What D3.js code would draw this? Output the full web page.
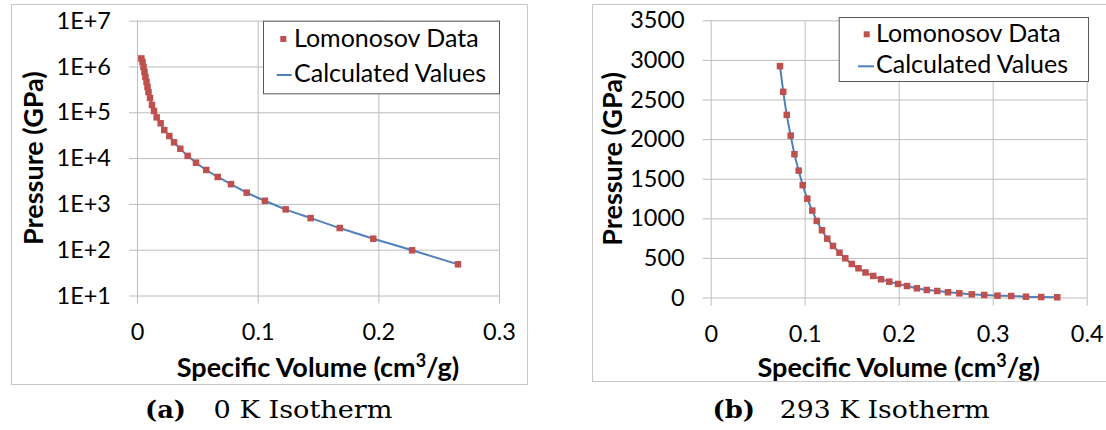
<!DOCTYPE html>
<html>
<head>
<meta charset="utf-8">
<script src="https://cdn.jsdelivr.net/npm/d3@7"></script>
<style>
  html, body { margin: 0; padding: 0; background: #fff; }
  svg { display: block; }
</style>
</head>
<body>
<svg id="chart" width="1106" height="430"></svg>
<script>
// Two Excel-style isotherm panels: log-scale 0 K (left) and linear 293 K (right).

const seriesNames = ["Lomonosov Data", "Calculated Values"];

// (a) 0 K isotherm
const volume0K = [0.0036, 0.0046, 0.0054, 0.0062, 0.0070, 0.0079, 0.0087, 0.0095, 0.0108, 0.0124,
  0.0141, 0.0163, 0.0196, 0.0226, 0.0268, 0.0307, 0.0359, 0.0420, 0.0489, 0.0574,
  0.0669, 0.0779, 0.0909, 0.1060, 0.1232, 0.1439, 0.1680, 0.1958, 0.2280, 0.2660];
const pressure0K = [1.5e6, 1.25e6, 9.75e5, 7.6e5, 5.9e5, 4.6e5, 3.57e5, 2.77e5, 2.05e5, 1.45e5,
  1.07e5, 7.76e4, 5.75e4, 4.1e4, 3.03e4, 2.21e4, 1.6e4, 1.12e4, 7940, 5500,
  3870, 2700, 1760, 1170, 760, 490, 297, 174, 97, 48];
const xTicks0K = [0, 0.1, 0.2, 0.3];
const xTickLabels0K = ["0", "0.1", "0.2", "0.3"];
const yTicks0K = [1e1, 1e2, 1e3, 1e4, 1e5, 1e6, 1e7];
const yTickLabels0K = ["1E+1", "1E+2", "1E+3", "1E+4", "1E+5", "1E+6", "1E+7"];

// (b) 293 K isotherm
const volume293K = [0.0737, 0.0772, 0.0809, 0.0851, 0.0891, 0.0936, 0.0979, 0.1028, 0.1081, 0.1128,
  0.1184, 0.1240, 0.1301, 0.1370, 0.1431, 0.1501, 0.1572, 0.1647, 0.1729, 0.1812,
  0.1900, 0.1993, 0.2088, 0.2193, 0.2299, 0.2410, 0.2524, 0.2645, 0.2777, 0.2910,
  0.3051, 0.3197, 0.3354, 0.3516, 0.3687];
const pressure293K = [2921, 2597, 2306, 2044, 1809, 1602, 1418, 1248, 1097, 967,
  849, 743, 651, 566, 495, 423, 369, 316, 272, 230,
  200, 171, 145, 116, 95, 82, 66, 53, 40, 32,
  23, 19, 10, 6, 3];
const xTicks293K = [0, 0.1, 0.2, 0.3, 0.4];
const xTickLabels293K = ["0", "0.1", "0.2", "0.3", "0.4"];
const yTicks293K = [0, 500, 1000, 1500, 2000, 2500, 3000, 3500];
const yTickLabels293K = ["0", "500", "1000", "1500", "2000", "2500", "3000", "3500"];

const captionTags = ["(a)", "(b)"];
const captionTexts = ["0 K Isotherm", "293 K Isotherm"];

const MARKER = "#C0504D";
const LINE = "#4F81BD";
const GRID = "#bdbdbd";
const FONT = "Lato, 'Open Sans', sans-serif";
const SERIF = "'DejaVu Serif', serif";

const svg = d3.select("#chart");

const panels = [
  {
    frame: { x: 11.5, y: 4.5, w: 516, h: 380 },
    x: d3.scaleLinear().domain([0, 0.3]).range([137, 499]),
    y: d3.scaleLog().domain([1e1, 1e7]).range([295.5, 20.7]),
    xTicks: xTicks0K, xLabels: xTickLabels0K,
    yTicks: yTicks0K, yLabels: yTickLabels0K,
    vol: volume0K, pres: pressure0K,
    yTitleX: 43,
    legend: { x: 263, y: 20.7, w: 236, h: 72.6, textX: 294, row1: 38, row2: 73, markX: 283.3, lineX0: 276.7, lineX1: 291.7 },
    caption: { tagX: 145, textX: 213.6, tagW: 41, textW: 179 }
  },
  {
    frame: { x: 592.5, y: 4.5, w: 530, h: 377 },
    x: d3.scaleLinear().domain([0, 0.4]).range([710.7, 1086.7]),
    y: d3.scaleLinear().domain([0, 3500]).range([297.5, 20.3]),
    xTicks: xTicks293K, xLabels: xTickLabels293K,
    yTicks: yTicks293K, yLabels: yTickLabels293K,
    vol: volume293K, pres: pressure293K,
    yTitleX: 622,
    legend: { x: 838.7, y: 17, w: 249.3, h: 64, textX: 876, row1: 33.3, row2: 64.3, markX: 866.7, lineX0: 858, lineX1: 874 },
    caption: { tagX: 712.5, textX: 779.7, tagW: 42.5, textW: 210 }
  }
];

panels.forEach((p, i) => {
  const [x0, x1] = p.x.range();
  const [y0, y1] = p.y.range();
  const g = svg.append("g");

  // chart area border
  g.append("rect")
    .attr("x", p.frame.x).attr("y", p.frame.y)
    .attr("width", p.frame.w).attr("height", p.frame.h)
    .attr("fill", "#fff").attr("stroke", "#c8c8c8").attr("stroke-width", 1);

  // horizontal gridlines + y labels (lines stick out 8px left like Excel tick marks)
  const yAxis = g.append("g")
    .attr("transform", `translate(${x0 - 8},0)`)
    .call(d3.axisLeft(p.y)
      .tickValues(p.yTicks)
      .tickSize(-(x1 - x0 + 8))
      .tickPadding(18)
      .tickFormat((d, k) => p.yLabels[k]));

  // vertical gridlines + x labels
  const xAxis = g.append("g")
    .attr("transform", `translate(0,${y0 + 8})`)
    .call(d3.axisBottom(p.x)
      .tickValues(p.xTicks)
      .tickSize(-(y0 - y1 + 8))
      .tickPadding(20)
      .tickFormat((d, k) => p.xLabels[k]));

  [yAxis, xAxis].forEach(ax => {
    ax.select(".domain").remove();
    ax.selectAll(".tick line").attr("stroke", GRID).attr("stroke-width", 1);
    ax.selectAll(".tick text")
      .attr("fill", "#000")
      .style("font-family", FONT)
      .style("font-size", "23.5px");
  });

  // axis titles
  const xt = g.append("text")
    .attr("x", (x0 + x1) / 2)
    .attr("y", 377)
    .attr("text-anchor", "middle")
    .style("font-family", FONT)
    .style("font-size", "27px")
    .style("font-weight", "700");
  xt.append("tspan").text("Specific Volume (cm");
  xt.append("tspan").attr("dy", -10).style("font-size", "18px").text("3");
  xt.append("tspan").attr("dy", 10).text("/g)");

  g.append("text")
    .attr("transform", `translate(${p.yTitleX},${(y0 + y1) / 2}) rotate(-90)`)
    .attr("text-anchor", "middle")
    .style("font-family", FONT)
    .style("font-size", "27px")
    .style("font-weight", "700")
    .text("Pressure (GPa)");

  const pts = p.vol.map((v, k) => ({ v, P: p.pres[k] }));

  const line = d3.line()
    .x(d => p.x(d.v))
    .y(d => p.y(d.P))
    .curve(d3.curveMonotoneX);

  g.append("path")
    .datum(pts)
    .attr("d", line)
    .attr("fill", "none")
    .attr("stroke", LINE)
    .attr("stroke-width", 2);

  g.selectAll(".mk")
    .data(pts)
    .join("rect")
    .attr("class", "mk")
    .attr("x", d => p.x(d.v) - 3.25)
    .attr("y", d => p.y(d.P) - 3.25)
    .attr("width", 6.5)
    .attr("height", 6.5)
    .attr("fill", MARKER);

  // legend
  const L = p.legend;
  const lg = g.append("g");
  lg.append("rect")
    .attr("x", L.x + 0.5).attr("y", L.y + 0.5)
    .attr("width", L.w).attr("height", L.h)
    .attr("fill", "#fff").attr("stroke", "#595959").attr("stroke-width", 1);
  lg.append("rect")
    .attr("x", L.markX - 3).attr("y", L.row1 - 2)
    .attr("width", 6).attr("height", 6)
    .attr("fill", MARKER);
  lg.append("line")
    .attr("x1", L.lineX0).attr("x2", L.lineX1)
    .attr("y1", L.row2 + 2).attr("y2", L.row2 + 2)
    .attr("stroke", LINE).attr("stroke-width", 2);
  [L.row1, L.row2].forEach((ry, k) => {
    lg.append("text")
      .attr("x", L.textX)
      .attr("y", ry)
      .attr("dy", "0.36em")
      .style("font-family", FONT)
      .style("font-size", "25px")
      .text(seriesNames[k]);
  });

  // sub-figure caption
  const C = p.caption;
  svg.append("text")
    .attr("x", C.tagX).attr("y", 418)
    .attr("textLength", C.tagW).attr("lengthAdjust", "spacingAndGlyphs")
    .style("font-family", SERIF).style("font-size", "25px").style("font-weight", "700")
    .text(captionTags[i]);
  svg.append("text")
    .attr("x", C.textX).attr("y", 418)
    .attr("textLength", C.textW).attr("lengthAdjust", "spacingAndGlyphs")
    .style("font-family", SERIF).style("font-size", "25px")
    .text(captionTexts[i]);
});
</script>
</body>
</html>
